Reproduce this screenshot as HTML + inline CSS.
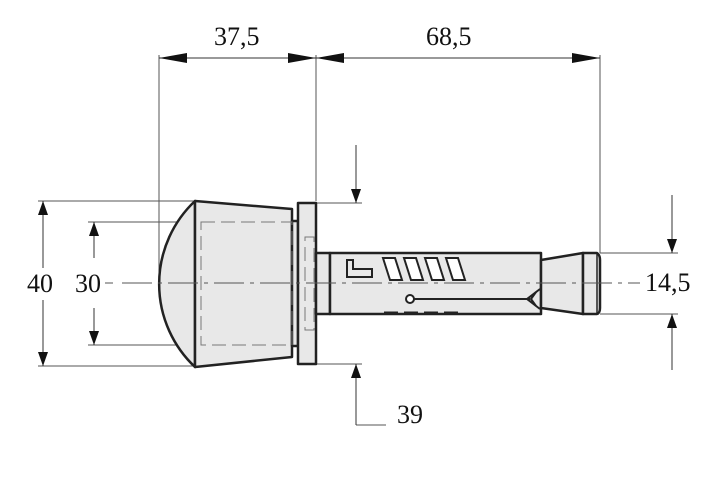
<!DOCTYPE html>
<html><head><style>
html,body{margin:0;padding:0;background:#fff;width:718px;height:480px;overflow:hidden}
svg{display:block}
text{font-family:"Liberation Serif",serif;font-size:26px;fill:#111}
</style></head><body>
<svg width="718" height="480" viewBox="0 0 718 480" xmlns="http://www.w3.org/2000/svg">
<defs>
<marker id="a" viewBox="0 0 10 10" refX="10" refY="5" markerWidth="14" markerHeight="10" markerUnits="userSpaceOnUse" orient="auto-start-reverse" preserveAspectRatio="none"><path d="M0,0 L10,5 L0,10 z" fill="#111"/></marker>
<marker id="h" viewBox="0 0 10 10" refX="10" refY="5" markerWidth="28" markerHeight="10" markerUnits="userSpaceOnUse" orient="auto-start-reverse" preserveAspectRatio="none"><path d="M0,0 L10,5 L0,10 z" fill="#111"/></marker>
</defs>
<g stroke="#555" stroke-width="1" fill="none">
<line x1="159" y1="55" x2="159" y2="283"/>
<line x1="316" y1="55" x2="316" y2="201"/>
<line x1="600" y1="55" x2="600" y2="253"/>
<line x1="38" y1="201" x2="195" y2="201"/>
<line x1="38" y1="366" x2="195" y2="366"/>
<line x1="88" y1="222" x2="201" y2="222"/>
<line x1="88" y1="345" x2="201" y2="345"/>
<line x1="316" y1="203" x2="362" y2="203"/>
<line x1="316" y1="364" x2="362" y2="364"/>
<line x1="600" y1="253" x2="678" y2="253"/>
<line x1="600" y1="314" x2="678" y2="314"/>
<line x1="356" y1="364" x2="356" y2="425"/>
<line x1="356" y1="425" x2="386" y2="425"/>
<line x1="105" y1="283" x2="113" y2="283"/>
</g>
<g stroke="#222" stroke-width="2.5" fill="#e8e8e8" stroke-linejoin="round">
<path d="M195,201 A114,114 0 0 0 195,367 Z"/>
<path d="M195,201 L292,209 L292,357 L195,367 Z"/>
<rect x="292" y="221" width="6" height="125"/>
<rect x="298" y="203" width="18" height="161"/>
<rect x="316" y="253" width="14" height="61"/>
<path d="M330,253 L541,253 L541,314 L330,314 Z"/>
<path d="M541,260 L583,253 L583,314 L541,308 Z"/>
<path d="M583,253 L597,253 Q600,255 600,260 L600,308 Q600,313 597,314 L583,314 Z"/>
<line x1="597" y1="254" x2="597" y2="313" stroke-width="1.5"/>
</g>
<g stroke="#222" stroke-width="2" fill="#fff">
<path d="M347,260 L353,260 L353,269 L372,269 L372,277 L347,277 Z" fill="#e8e8e8"/>
<path d="M383,258 L395,258 L402,280 L390,280 Z"/>
<path d="M404,258 L416,258 L423,280 L411,280 Z"/>
<path d="M425,258 L437,258 L444,280 L432,280 Z"/>
<path d="M446,258 L458,258 L465,280 L453,280 Z"/>
<circle cx="410" cy="299" r="4"/>
</g>
<g stroke="#222" stroke-width="2" fill="none">
<line x1="414" y1="299" x2="530" y2="299"/>
<path d="M540,289 L527,299 L540,309"/>
<path d="M536,292 L531,299 L536,306"/>
<path d="M384,313 L460,313" stroke-dasharray="14,6" stroke-width="3"/>
</g>
<g stroke="#777" stroke-width="1" fill="none" stroke-dasharray="14,6">
<rect x="201" y="222" width="91" height="123"/>
<rect x="305" y="237" width="9" height="93"/>
</g>
<line x1="122" y1="283" x2="640" y2="283" stroke="#555" stroke-width="1" stroke-dasharray="30,6,4,6"/>
<g stroke="#333" stroke-width="1" fill="none">
<line x1="159" y1="58" x2="316" y2="58" marker-start="url(#h)" marker-end="url(#h)"/>
<line x1="316" y1="58" x2="600" y2="58" marker-start="url(#h)" marker-end="url(#h)"/>
<line x1="43" y1="268" x2="43" y2="201" marker-end="url(#a)"/>
<line x1="43" y1="300" x2="43" y2="366" marker-end="url(#a)"/>
<line x1="94" y1="258" x2="94" y2="222" marker-end="url(#a)"/>
<line x1="94" y1="308" x2="94" y2="345" marker-end="url(#a)"/>
<line x1="356" y1="145" x2="356" y2="203" marker-end="url(#a)"/>
<line x1="356" y1="425" x2="356" y2="364" marker-end="url(#a)"/>
<line x1="672" y1="195" x2="672" y2="253" marker-end="url(#a)"/>
<line x1="672" y1="370" x2="672" y2="314" marker-end="url(#a)"/>
</g>
<text x="214" y="45">37,5</text>
<text x="426" y="45">68,5</text>
<text x="27" y="292">40</text>
<text x="75" y="292">30</text>
<text x="397" y="423">39</text>
<text x="645" y="291">14,5</text>
</svg>
</body></html>
